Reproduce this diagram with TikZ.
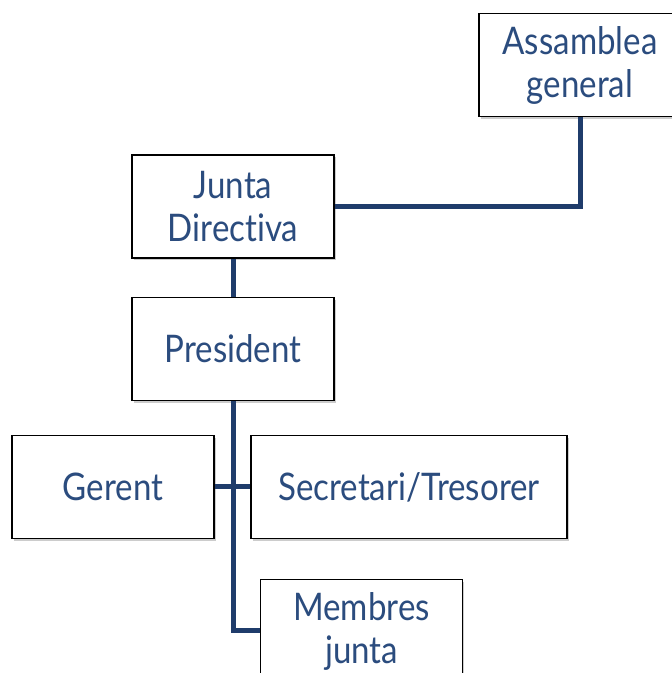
\documentclass[tikz,border=0pt]{standalone}
\usepackage{fontspec}
\setmainfont{Lato}[FakeStretch=0.87, Ligatures=NoCommon]
\usetikzlibrary{positioning,shadows}

\definecolor{textblau}{HTML}{2B4C7E}
\definecolor{liniablau}{HTML}{1F3C6B}

\begin{document}
\begin{tikzpicture}[
  x=1pt, y=1pt,
  caixa/.style={draw, line width=1.3pt, fill=white, align=center, text=textblau,
    minimum width=202pt, minimum height=103pt, inner sep=2pt,
    font=\fontsize{38}{43}\selectfont,
    drop shadow={shadow xshift=1.5pt, shadow yshift=-2.5pt, opacity=0.4, fill=gray}},
  linia/.style={line width=5pt, color=liniablau}
]
\useasboundingbox (0,0) rectangle (672,673);
\node[caixa] (ag) at (580,608) {Assamblea\\general};
\node[caixa] (jd) at (233,466.5) {Junta\\Directiva};
\node[caixa, below=38pt of jd] (pr) {President};
\node[caixa] (ge) at (113,186) {Gerent};
\node[caixa, minimum width=316pt] (st) at (409,186) {Secretari/Tresorer};
\node[caixa] (mj) at (361.5,42) {Membres\\junta};
\draw[linia] (jd.east) -| (ag.south);
\draw[linia] (jd.south) -- (pr.north);
\draw[linia] (pr.south) |- (mj.west);
\draw[linia] (ge.east) -- (st.west);
\end{tikzpicture}
\end{document}
